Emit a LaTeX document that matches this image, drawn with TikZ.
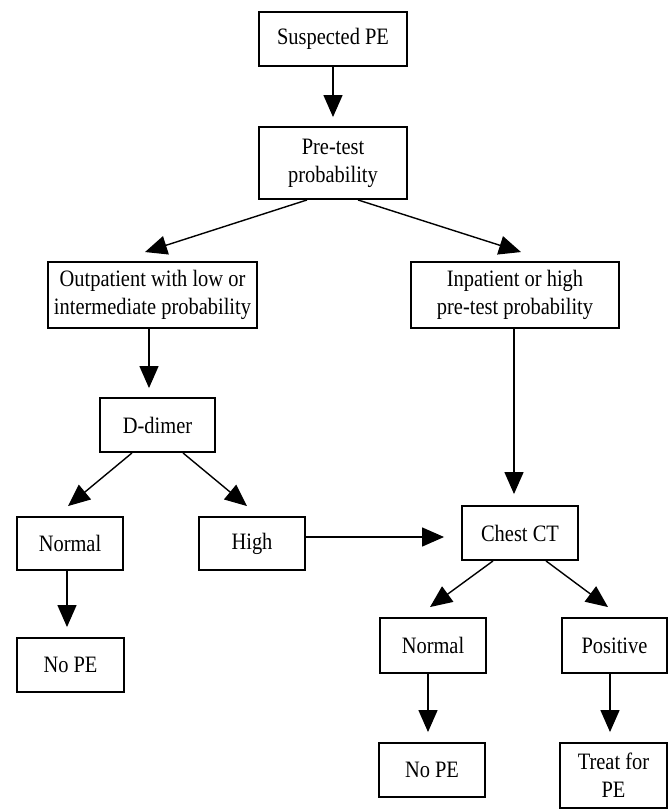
\documentclass[tikz,border=0pt]{standalone}
\usepackage{fontspec}
\setmainfont{Liberation Serif}[FakeStretch=0.87]
\usetikzlibrary{arrows.meta,calc}
\begin{document}
\begin{tikzpicture}[x=1pt,y=-1pt,
  box/.style={draw, line width=1.9pt, inner sep=0pt, align=center,
    font=\fontsize{23.5}{28}\selectfont},
  arr/.style={line width=1.4pt, -{Triangle[length=22pt,width=19pt]}}]
\useasboundingbox[fill=white] (0,0) rectangle (669,811);
% nodes
\node[box, minimum width=148pt, minimum height=54pt] (sus) at (333,39) {Suspected PE};
\node[box, minimum width=148pt, minimum height=72pt] (pre) at (333,163) {Pre-test\\probability};
\node[box, minimum width=209pt, minimum height=66pt] (out) at (152.5,295) {Outpatient with low or\\intermediate probability};
\node[box, minimum width=208pt, minimum height=66pt] (inp) at (515,295) {Inpatient or high\\pre-test probability};
\node[box, minimum width=115pt, minimum height=54pt] (dd) at (157.5,425) {D-dimer};
\node[box, minimum width=106pt, minimum height=53pt] (nl) at (70,543.5) {Normal};
\node[box, minimum width=106pt, minimum height=53pt] (hi) at (252,543.5) {High};
\node[box, minimum width=116pt, minimum height=54pt] (ct) at (520,533) {Chest CT};
\node[box, minimum width=106pt, minimum height=55pt] (nr) at (433,645.5) {Normal};
\node[box, minimum width=105pt, minimum height=55pt] (po) at (614.5,645.5) {Positive};
\node[box, minimum width=107pt, minimum height=54pt] (nl2) at (70.5,665) {No PE};
\node[box, minimum width=106pt, minimum height=54pt] (nr2) at (432,770) {No PE};
\node[box, minimum width=107pt, minimum height=65pt] (tr) at (613.5,775.5) {Treat for\\PE};
% connectors
\draw[arr] (sus.south) -- ($(pre.north)+(0,-9)$);
\draw[arr] ($(pre.south)+(-26,0)$) -- ($(out.north)+(-7.5,-9)$);
\draw[arr] ($(pre.south)+(25,0)$) -- ($(inp.north)+(6,-9)$);
\draw[arr] ($(out.south)+(-3.5,0)$) -- ($(dd.north)+(-8.5,-9)$);
\draw[arr] ($(dd.south)+(-25.5,0)$) -- ($(nl.north)+(-2,-10)$);
\draw[arr] ($(dd.south)+(25.5,0)$) -- ($(hi.north)+(-5,-10)$);
\draw[arr] ($(hi.east)+(0,-6.5)$) -- ($(ct.west)+(-17,4)$);
\draw[arr] ($(inp.south)+(-1,0)$) -- ($(ct.north)+(-6,-11)$);
\draw[arr] ($(ct.south)+(-27,0)$) -- ($(nr.north)+(-3,-10)$);
\draw[arr] ($(ct.south)+(26,0)$) -- ($(po.north)+(-6.5,-10)$);
\draw[arr] ($(nl.south)+(-3,0)$) -- ($(nl2.north)+(-3.5,-10)$);
\draw[arr] ($(nr.south)+(-5,0)$) -- ($(nr2.north)+(-4,-10)$);
\draw[arr] ($(po.south)+(-4.5,0)$) -- ($(tr.north)+(-3.5,-10)$);
\end{tikzpicture}
\end{document}
